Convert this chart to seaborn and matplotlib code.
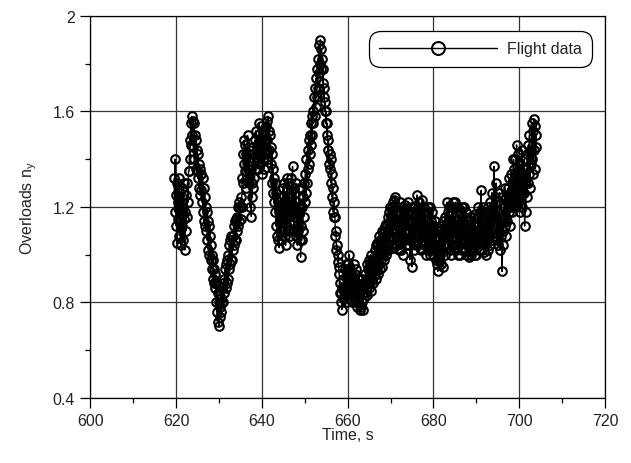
import numpy as np
import pandas as pd
import matplotlib
matplotlib.use("Agg")
import matplotlib.pyplot as plt
from matplotlib.ticker import MultipleLocator
import seaborn as sns

# flight record, sampled every 0.125 s starting at t0 (one row = one second)
t0 = 619.5
dt = 0.125
ny = [
    1.32, 1.18, 1.40, 1.25,
    1.12, 1.30, 1.05, 1.22, 1.15, 1.32, 1.08, 1.26,   # 620
    1.18, 1.04, 1.28, 1.12, 1.20, 1.06, 1.30, 1.15,
    1.02, 1.18, 1.10, 1.25, 1.16, 1.30, 1.22, 1.35,
    1.35, 1.48, 1.40, 1.55, 1.46, 1.58, 1.50, 1.56,
    1.45, 1.55, 1.40, 1.50, 1.36, 1.48, 1.35, 1.44,
    1.32, 1.42, 1.28, 1.38, 1.25, 1.36, 1.27, 1.34,   # 625
    1.22, 1.32, 1.18, 1.28, 1.14, 1.24, 1.12, 1.20,
    1.10, 1.18, 1.06, 1.14, 1.02, 1.12, 1.00, 1.08,
    0.98, 1.04, 0.94, 1.00, 0.90, 0.98, 0.88, 0.94,
    0.86, 0.92, 0.80, 0.88, 0.76, 0.84, 0.72, 0.80,
    0.70, 0.78, 0.74, 0.82, 0.76, 0.86, 0.80, 0.88,   # 630
    0.80, 0.90, 0.84, 0.94, 0.86, 0.96, 0.88, 0.98,
    0.90, 1.00, 0.94, 1.04, 0.96, 1.06, 0.98, 1.08,
    0.98, 1.08, 1.02, 1.12, 1.04, 1.14, 1.06, 1.15,
    1.06, 1.16, 1.10, 1.20, 1.12, 1.22, 1.14, 1.20,
    1.15, 1.24, 1.20, 1.32, 1.30, 1.42, 1.38, 1.48,   # 635
    1.35, 1.46, 1.28, 1.42, 1.32, 1.50, 1.36, 1.44,
    1.30, 1.42, 1.20, 1.36, 1.16, 1.30, 1.24, 1.45,
    1.28, 1.40, 1.32, 1.48, 1.36, 1.52, 1.40, 1.46,
    1.36, 1.50, 1.42, 1.55, 1.38, 1.48, 1.44, 1.54,
    1.34, 1.46, 1.40, 1.52, 1.36, 1.50, 1.42, 1.54,   # 640
    1.44, 1.56, 1.48, 1.58, 1.40, 1.52, 1.44, 1.50,
    1.38, 1.45, 1.30, 1.42, 1.26, 1.36, 1.22, 1.32,
    1.18, 1.30, 1.12, 1.26, 1.08, 1.22, 1.06, 1.18,
    1.03, 1.15, 1.10, 1.24, 1.06, 1.20, 1.12, 1.28,
    1.14, 1.30, 1.08, 1.22, 1.04, 1.18, 1.12, 1.32,   # 645
    1.10, 1.24, 1.16, 1.30, 1.08, 1.22, 1.18, 1.32,
    1.20, 1.37, 1.14, 1.28, 1.10, 1.26, 1.16, 1.30,
    1.08, 1.22, 1.04, 1.18, 1.10, 1.28, 1.06, 1.20,
    0.99, 1.12, 1.06, 1.20, 1.10, 1.24, 1.16, 1.30,
    1.22, 1.34, 1.26, 1.40, 1.30, 1.44, 1.36, 1.48,   # 650
    1.38, 1.50, 1.42, 1.55, 1.46, 1.58, 1.50, 1.60,
    1.55, 1.66, 1.58, 1.70, 1.62, 1.74, 1.66, 1.78,
    1.70, 1.82, 1.76, 1.88, 1.80, 1.90, 1.78, 1.86,
    1.82, 1.72, 1.78, 1.66, 1.70, 1.60, 1.64, 1.55,
    1.60, 1.50, 1.55, 1.44, 1.48, 1.38, 1.42, 1.36,   # 655
    1.40, 1.30, 1.34, 1.24, 1.28, 1.18, 1.22, 1.16,
    1.16, 1.08, 1.10, 1.02, 1.04, 0.97, 1.00, 0.95,
    0.92, 0.84, 0.88, 0.80, 0.84, 0.77, 0.86, 0.82,
    0.90, 0.82, 0.94, 0.86, 0.96, 0.84, 0.92, 0.80,
    0.86, 0.96, 0.82, 1.00, 0.88, 0.94, 0.84, 0.92,   # 660
    0.80, 0.90, 0.84, 0.96, 0.82, 0.92, 0.86, 0.94,
    0.80, 0.88, 0.78, 0.86, 0.82, 0.90, 0.77, 0.85,
    0.78, 0.86, 0.80, 0.90, 0.77, 0.84, 0.82, 0.88,
    0.84, 0.92, 0.86, 0.96, 0.83, 0.94, 0.88, 0.98,
    0.86, 0.96, 0.88, 1.00, 0.85, 0.94, 0.90, 0.98,   # 665
    0.88, 0.98, 0.92, 1.02, 0.90, 1.04, 0.94, 1.05,
    0.92, 1.04, 0.96, 1.08, 0.94, 1.06, 0.98, 1.10,
    0.95, 1.06, 1.00, 1.10, 0.98, 1.12, 1.02, 1.13,
    1.00, 1.12, 1.04, 1.16, 1.02, 1.18, 1.06, 1.20,
    1.04, 1.16, 1.08, 1.20, 1.03, 1.22, 1.10, 1.23,   # 670
    1.24, 1.10, 1.18, 1.04, 1.20, 1.08, 1.14, 1.02,
    1.12, 1.22, 1.06, 1.18, 1.02, 1.14, 1.08, 1.20,
    1.00, 1.12, 1.06, 1.21, 1.04, 1.16, 1.10, 1.18,
    1.14, 1.22, 1.04, 1.18, 0.98, 1.10, 1.06, 1.20,
    0.95, 1.08, 1.14, 1.20, 1.02, 1.16, 1.06, 1.18,   # 675
    1.10, 1.25, 1.04, 1.20, 1.08, 1.22, 1.03, 1.16,
    1.02, 1.14, 1.08, 1.23, 1.06, 1.18, 1.10, 1.20,
    1.04, 1.18, 1.00, 1.14, 1.08, 1.20, 1.02, 1.12,
    1.06, 1.20, 1.00, 1.14, 1.04, 1.18, 1.02, 1.10,
    1.00, 1.12, 1.04, 1.14, 0.98, 1.08, 0.96, 1.06,   # 680
    0.93, 1.04, 0.98, 1.10, 1.00, 1.12, 0.96, 1.08,
    1.02, 1.14, 0.95, 1.08, 1.04, 1.16, 1.00, 1.12,
    1.10, 1.22, 1.04, 1.18, 1.08, 1.20, 1.02, 1.14,
    1.00, 1.12, 1.06, 1.20, 1.04, 1.22, 1.08, 1.16,
    1.10, 1.22, 1.02, 1.14, 1.06, 1.20, 1.00, 1.12,   # 685
    1.04, 1.18, 1.00, 1.12, 1.08, 1.20, 1.02, 1.14,
    1.06, 1.20, 1.02, 1.12, 1.08, 1.18, 1.00, 1.10,
    1.04, 1.14, 0.99, 1.08, 1.02, 1.16, 1.00, 1.10,
    1.10, 1.02, 1.16, 1.06, 1.12, 1.00, 1.17, 1.04,
    1.00, 1.12, 1.06, 1.20, 1.02, 1.16, 1.08, 1.18,   # 690
    1.06, 1.27, 1.02, 1.16, 1.08, 1.20, 1.01, 1.14,
    1.04, 1.18, 1.00, 1.12, 1.06, 1.20, 1.02, 1.14,
    1.08, 1.22, 1.04, 1.18, 1.10, 1.26, 1.06, 1.20,
    1.12, 1.37, 1.08, 1.24, 1.14, 1.30, 1.06, 1.22,
    1.04, 1.18, 1.10, 1.26, 1.02, 1.16, 1.08, 1.24,   # 695
    0.93, 1.04, 1.10, 1.20, 1.14, 1.28, 1.12, 1.24,
    1.08, 1.22, 1.14, 1.28, 1.18, 1.32, 1.12, 1.26,
    1.20, 1.34, 1.18, 1.30, 1.24, 1.40, 1.22, 1.36,
    1.26, 1.40, 1.20, 1.46, 1.28, 1.42, 1.22, 1.36,
    1.24, 1.38, 1.18, 1.34, 1.28, 1.44, 1.20, 1.32,   # 700
    1.26, 1.40, 1.12, 1.30, 1.18, 1.36, 1.24, 1.42,
    1.30, 1.46, 1.34, 1.50, 1.28, 1.44, 1.38, 1.55,
    1.40, 1.52, 1.34, 1.57, 1.44, 1.54, 1.36, 1.50,
    1.45,
]
time_s = t0 + dt * np.arange(len(ny))
df = pd.DataFrame({"time": time_s, "ny": ny})

sns.set_style("white")
plt.rcParams["font.family"] = ["Liberation Sans", "DejaVu Sans"]
plt.rcParams["mathtext.fontset"] = "custom"
plt.rcParams["mathtext.rm"] = "Liberation Sans"
plt.rcParams["mathtext.it"] = "Liberation Sans"

fs = 11.5
txt = "#222222"

fig = plt.figure(figsize=(6.31, 4.64), dpi=100)
ax = fig.add_axes([0.1434, 0.1401, 0.8154, 0.8233])

sns.lineplot(data=df, x="time", y="ny", ax=ax, estimator=None, sort=False,
             color="black", linewidth=1.0, marker="o", markersize=6.2,
             markerfacecolor="none", markeredgecolor="black",
             markeredgewidth=1.5, label="Flight data")

ax.set_xlim(600, 720)
ax.set_ylim(0.4, 2.0)
ax.xaxis.set_minor_locator(MultipleLocator(10))
ax.yaxis.set_minor_locator(MultipleLocator(0.2))
ax.set_xticks([600, 620, 640, 660, 680, 700, 720])
ax.set_xticklabels(["600", "620", "640", "660", "680", "700", "720"])
ax.set_yticks([0.4, 0.8, 1.2, 1.6, 2.0])
ax.set_yticklabels(["0.4", "0.8", "1.2", "1.6", "2"])

ax.grid(True, which="major", color="#333333", linewidth=0.9)
ax.set_axisbelow(True)
for s in ax.spines.values():
    s.set_color("black")
    s.set_linewidth(0.9)
ax.tick_params(which="both", bottom=True, left=True, top=False, right=False)
ax.tick_params(which="major", direction="out", length=7, width=0.9,
               color="black", labelsize=fs, labelcolor=txt, pad=4)
ax.tick_params(which="minor", direction="out", length=3.6, width=0.9,
               color="black")

ax.set_xlabel("Time, s", fontsize=fs, color=txt, labelpad=-1)
ax.set_ylabel("Overloads n$_\\mathregular{y}$", fontsize=fs,
              color=txt, labelpad=10)

leg = ax.legend(loc="upper right", bbox_to_anchor=(0.966, 0.948),
                frameon=True, fancybox=True, fontsize=fs,
                handlelength=7.4, handletextpad=0.6, borderpad=0.35,
                markerscale=1.5, borderaxespad=0)
for txt_obj in leg.get_texts():
    txt_obj.set_color(txt)
leg.get_frame().set_edgecolor("black")
leg.get_frame().set_linewidth(0.9)
leg.get_frame().set_alpha(1)
leg.get_frame().set_boxstyle("round,pad=0.3,rounding_size=0.75")

fig.savefig("out.png", dpi=100)
